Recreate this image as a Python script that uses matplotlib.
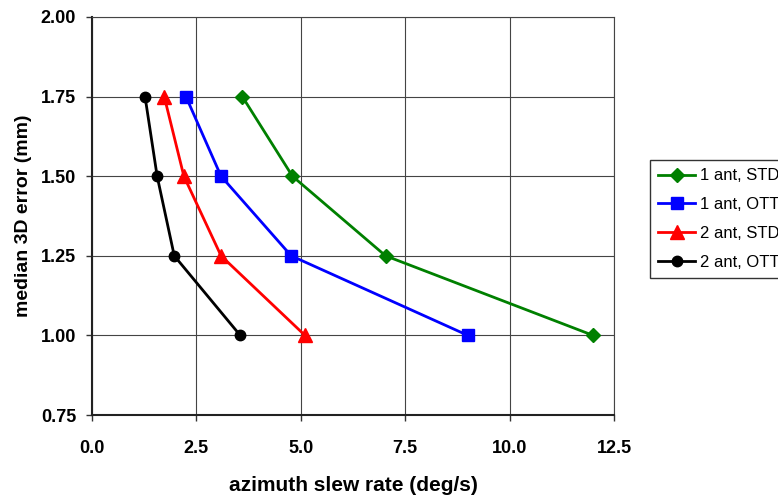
import numpy as np
import matplotlib
matplotlib.use('Agg')
import matplotlib.pyplot as plt

plt.rcParams['font.family'] = ['Liberation Sans', 'DejaVu Sans']

err = [1.75, 1.50, 1.25, 1.00]
ant1_std = [3.6, 4.8, 7.03, 12.0]
ant1_ott = [2.25, 3.09, 4.77, 9.0]
ant2_std = [1.73, 2.2, 3.09, 5.1]
ant2_ott = [1.27, 1.56, 1.97, 3.55]

labels = ['1 ant, STD', '1 ant, OTT', '2 ant, STD', '2 ant, OTT']
xticks = [0.0, 2.5, 5.0, 7.5, 10.0, 12.5]
yticks = [0.75, 1.00, 1.25, 1.50, 1.75, 2.00]

fig = plt.figure(figsize=(7.78, 5.0), dpi=100)
ax = fig.add_axes([92/778, 0.17, (614-92)/778, 0.796])

ax.plot(ant1_std, err, color='green', lw=2, marker='D', ms=7.5, label=labels[0])
ax.plot(ant1_ott, err, color='blue', lw=2, marker='s', ms=8, label=labels[1])
ax.plot(ant2_std, err, color='red', lw=2, marker='^', ms=9.5, label=labels[2])
ax.plot(ant2_ott, err, color='black', lw=2, marker='o', ms=7.5, label=labels[3])

ax.set_xlim(0, 12.5)
ax.set_ylim(0.75, 2.0)
ax.set_xticks(xticks)
ax.set_yticks(yticks)
ax.set_xticklabels(['%.1f' % v for v in xticks], fontweight='bold', fontsize=13)
ax.set_yticklabels(['%.2f' % v for v in yticks], fontweight='bold', fontsize=13)
ax.tick_params(direction='out', length=4, width=1, color='#333333')
ax.tick_params(axis='x', pad=14)
ax.tick_params(axis='y', pad=7.5)
ax.grid(True, color='#444444', lw=0.8)
ax.set_axisbelow(True)
for s in ['top', 'right']:
    ax.spines[s].set_color('#444444')
    ax.spines[s].set_linewidth(0.8)
for s in ['left', 'bottom']:
    ax.spines[s].set_linewidth(1.5)
    ax.spines[s].set_color('#222222')

ax.set_xlabel('azimuth slew rate (deg/s)', fontweight='bold', fontsize=15, labelpad=14)
ax.set_ylabel('median 3D error (mm)', fontweight='bold', fontsize=14, labelpad=6)

leg = fig.legend(loc='upper left', bbox_to_anchor=(650/778, 1 - 160/500), fontsize=12,
                 frameon=True, fancybox=False, edgecolor='black', borderpad=0.5,
                 labelspacing=0.83, handlelength=2.2, handletextpad=0.3,
                 borderaxespad=0)
leg.get_frame().set_linewidth(1)

fig.savefig('out.png', dpi=100)
